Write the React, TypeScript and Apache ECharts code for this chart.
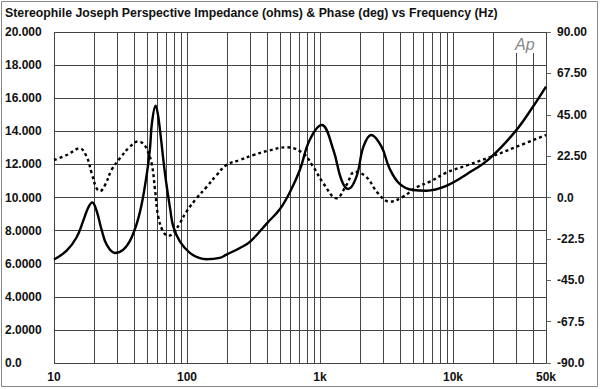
import React, { useEffect, useRef } from "react";
import * as echarts from "echarts";

const titleText = "Stereophile Joseph Perspective Impedance (ohms) & Phase (deg) vs Frequency (Hz)";

const impFreq = [10, 12.5, 14.8, 16.6, 18.1, 19.4, 20.9, 22.8, 24.9, 28.7, 33.2, 38.4, 44.2, 49.6, 52.6, 54.5, 58.1, 60.5, 62.6, 68.3, 74.9, 78.8, 88.3, 105, 125, 140, 176, 198, 250, 300, 405, 500, 592, 705, 836, 1030, 1260, 1450, 1630, 1880, 2120, 2430, 2900, 3330, 3970, 5000, 6300, 8900, 13000, 18900, 29300, 40000, 50000];
const impOhms = [6.25, 6.8, 7.6, 8.6, 9.4, 9.7, 9.2, 8.05, 7.15, 6.65, 6.85, 7.6, 9.1, 11.3, 12.9, 14.5, 15.55, 15.0, 14.1, 11.45, 9.25, 8.25, 7.35, 6.65, 6.33, 6.27, 6.35, 6.55, 6.95, 7.35, 8.5, 9.3, 10.3, 11.66, 13.47, 14.38, 12.87, 11.06, 10.51, 11.26, 13.07, 13.78, 13.07, 11.76, 10.82, 10.45, 10.41, 10.7, 11.46, 12.37, 13.98, 15.5, 16.7];

const phaseFreq = [10, 12.5, 15.6, 17.6, 19.2, 20.9, 22.2, 24.2, 27.1, 31.3, 37.2, 43, 46.5, 49.6, 54.2, 57.5, 60.8, 66.3, 72.4, 78.8, 88.3, 99, 118, 141, 167, 198, 250, 315, 405, 563, 748, 889, 1060, 1330, 1580, 1830, 2220, 2730, 3330, 4200, 5300, 6700, 8900, 13000, 18900, 29300, 50000];
const phaseDeg = [20.4, 23.1, 26.7, 22.2, 13.2, 5, 3.5, 6.8, 15, 21.3, 27.6, 30.5, 29.5, 26.7, 18.6, 4.1, -10.4, -18.6, -20.9, -19.5, -14, -7.7, -0.4, 5.9, 12.2, 17.7, 20.4, 23.1, 25.4, 27.3, 24, 16.7, 7.7, -0.4, 6.8, 14, 11.3, 2.3, -2.3, 0.4, 5.5, 8.6, 13.5, 17.7, 21.9, 27.3, 34];

const gridFreqs = [10, 20, 30, 40, 50, 60, 70, 80, 90, 100, 200, 300, 400, 500, 600, 700, 800, 900, 1000, 2000, 3000, 4000, 5000, 6000, 7000, 8000, 9000, 10000, 20000, 30000, 40000, 50000];
const xLabelValues = [10, 100, 1000, 10000, 50000];
const xLabelTexts = ["10", "100", "1k", "10k", "50k"];
const leftLabelValues = [0, 2, 4, 6, 8, 10, 12, 14, 16, 18, 20];
const leftLabelTexts = ["0.0", "2.0000", "4.0000", "6.0000", "8.0000", "10.000", "12.000", "14.000", "16.000", "18.000", "20.000"];
const rightLabelValues = [-90, -67.5, -45, -22.5, 0, 22.5, 45, 67.5, 90];
const rightLabelTexts = ["-90.0", "-67.5", "-45.0", "-22.5", "0.0", "22.50", "45.00", "67.50", "90.00"];

const FONT = "'Liberation Sans', Arial, Helvetica, sans-serif";

export default function App() {
  const ref = useRef<HTMLDivElement>(null);
  useEffect(() => {
    if (!ref.current) return;
    const chart = echarts.init(ref.current, null, { renderer: "svg" });
    const impData = impFreq.map((f, i) => [f, impOhms[i]]);
    const phData = phaseFreq.map((f, i) => [f, phaseDeg[i]]);
    const lookup = (vals: number[], texts: string[], v: number) => {
      const i = vals.findIndex((x) => Math.abs(x - v) < 1e-6);
      return i >= 0 ? texts[i] : "";
    };
    chart.setOption({
      animation: false,
      backgroundColor: "#ffffff",
      title: {
        text: titleText,
        left: 5,
        top: 7,
        padding: 0,
        textStyle: { fontFamily: FONT, fontSize: 12.3, fontWeight: "bold", color: "#111" },
      },
      grid: { left: 54, right: 54, top: 32, bottom: 26, containLabel: false },
      xAxis: {
        type: "log",
        logBase: 10,
        min: 10,
        max: 50000,
        axisLine: { show: false },
        axisTick: { show: false },
        splitLine: { show: false },
        axisLabel: {
          customValues: xLabelValues,
          formatter: (v: number) => lookup(xLabelValues, xLabelTexts, v),
          fontFamily: FONT,
          fontSize: 12,
          fontWeight: "bold",
          color: "#111",
          margin: 8,
        },
      },
      yAxis: [
        {
          type: "value",
          min: 0,
          max: 20,
          interval: 2,
          position: "left",
          axisLine: { show: false },
          axisTick: { show: false },
          splitLine: { show: true, lineStyle: { color: "#444", width: 1 } },
          axisLabel: {
            formatter: (v: number) => lookup(leftLabelValues, leftLabelTexts, v),
            align: "left",
            margin: 49,
            fontFamily: FONT,
            fontSize: 12,
            fontWeight: "bold",
            color: "#111",
          },
        },
        {
          type: "value",
          min: -90,
          max: 90,
          interval: 22.5,
          position: "right",
          axisLine: { show: false },
          axisTick: { show: true, inside: false, length: 5, lineStyle: { color: "#666", width: 1 } },
          splitLine: { show: false },
          axisLabel: {
            formatter: (v: number) => lookup(rightLabelValues, rightLabelTexts, v),
            align: "left",
            margin: 11,
            fontFamily: FONT,
            fontSize: 12,
            fontWeight: "bold",
            color: "#111",
          },
        },
      ],
      series: [
        {
          name: "grid",
          type: "line",
          data: [],
          z: 1,
          silent: true,
          markLine: {
            silent: true,
            symbol: "none",
            label: { show: false },
            lineStyle: { color: "#444", width: 1, type: "solid" },
            data: gridFreqs.map((f) => ({ xAxis: f })),
          },
        },
        {
          name: "Impedance",
          type: "line",
          yAxisIndex: 0,
          data: impData,
          smooth: 0.4,
          showSymbol: false,
          z: 5,
          lineStyle: { color: "#000", width: 2.4 },
        },
        {
          name: "Phase",
          type: "line",
          yAxisIndex: 1,
          data: phData,
          smooth: 0.4,
          showSymbol: false,
          z: 5,
          lineStyle: { color: "#000", width: 2.4, type: [3, 3] },
        },
      ],
      graphic: [
        {
          type: "rect",
          z: 100,
          shape: { x: 509, y: 33, width: 32, height: 20 },
          style: { fill: "#ffffff" },
        },
        {
          type: "text",
          z: 101,
          x: 515,
          y: 36,
          style: {
            text: "Ap",
            fontFamily: FONT,
            fontSize: 16,
            fontStyle: "italic",
            fill: "#888",
          },
        },
        {
          type: "rect",
          z: 100,
          shape: { x: 1.5, y: 1.5, width: 596, height: 385 },
          style: { fill: "none", stroke: "#888", lineWidth: 1 },
        },
      ],
    });
    return () => chart.dispose();
  }, []);
  return (
    <div
      ref={ref}
      style={{ position: "fixed", left: 0, top: 0, width: 600, height: 389, background: "#fff" }}
    />
  );
}
